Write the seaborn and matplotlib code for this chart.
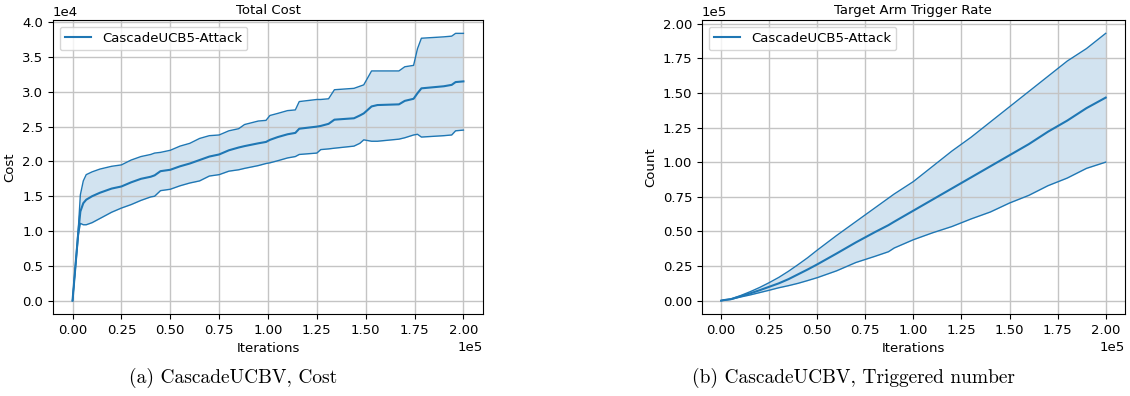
import numpy as np
import matplotlib
matplotlib.use("Agg")
import matplotlib.pyplot as plt
import seaborn as sns

BLUE = "#1f77b4"

# total cost, x in 1e5 iterations, y in 1e4
cost_x = [0, 0.03, 0.04, 0.055, 0.07, 0.10, 0.14, 0.20, 0.25, 0.30, 0.35, 0.40, 0.42,
          0.45, 0.50, 0.55, 0.60, 0.65, 0.70, 0.75, 0.80, 0.85, 0.88, 0.95, 0.99, 1.01,
          1.05, 1.10, 1.14, 1.16, 1.25, 1.27, 1.31, 1.34, 1.44, 1.47, 1.49, 1.53, 1.56,
          1.67, 1.70, 1.745, 1.765, 1.785, 1.90, 1.94, 1.96, 2.00]
cost_upper = [0, 1.05, 1.52, 1.72, 1.81, 1.85, 1.89, 1.93, 1.95, 2.02, 2.07, 2.10, 2.12,
              2.13, 2.16, 2.22, 2.26, 2.33, 2.37, 2.38, 2.44, 2.47, 2.53, 2.58, 2.59, 2.66,
              2.69, 2.73, 2.74, 2.86, 2.89, 2.89, 2.90, 3.03, 3.05, 3.08, 3.10, 3.30, 3.30,
              3.30, 3.36, 3.38, 3.62, 3.77, 3.79, 3.80, 3.84, 3.84]
cost_mean = [0, 1.00, 1.28, 1.40, 1.45, 1.50, 1.55, 1.61, 1.64, 1.70, 1.75, 1.78, 1.80,
             1.86, 1.88, 1.93, 1.97, 2.02, 2.07, 2.10, 2.16, 2.20, 2.22, 2.26, 2.28, 2.31,
             2.35, 2.39, 2.41, 2.47, 2.50, 2.51, 2.54, 2.60, 2.62, 2.66, 2.69, 2.79, 2.81,
             2.82, 2.87, 2.90, 2.98, 3.05, 3.08, 3.10, 3.14, 3.15]
cost_lower = [0, 0.95, 1.11, 1.09, 1.09, 1.12, 1.18, 1.27, 1.33, 1.38, 1.44, 1.49, 1.50,
              1.58, 1.60, 1.65, 1.69, 1.72, 1.79, 1.81, 1.86, 1.88, 1.90, 1.94, 1.97, 1.98,
              2.01, 2.05, 2.07, 2.10, 2.12, 2.17, 2.18, 2.19, 2.22, 2.26, 2.31, 2.29, 2.29,
              2.32, 2.34, 2.38, 2.39, 2.35, 2.37, 2.38, 2.44, 2.45]

# trigger count, x in 1e5 iterations, y in 1e5
trig_x = [0, 0.02, 0.05, 0.10, 0.15, 0.20, 0.25, 0.30, 0.35, 0.40, 0.45, 0.50, 0.60, 0.70,
          0.80, 0.87, 0.90, 1.00, 1.10, 1.20, 1.30, 1.40, 1.50, 1.60, 1.70, 1.80, 1.90, 2.00]
trig_upper = [0, 0.006, 0.012, 0.036, 0.064, 0.095, 0.13, 0.168, 0.212, 0.26, 0.31, 0.365,
              0.47, 0.57, 0.67, 0.74, 0.77, 0.86, 0.97, 1.08, 1.18, 1.29, 1.40, 1.51, 1.62,
              1.73, 1.82, 1.93]
trig_mean = [0, 0.005, 0.01, 0.031, 0.052, 0.075, 0.10, 0.125, 0.155, 0.19, 0.225, 0.262,
             0.34, 0.42, 0.495, 0.545, 0.57, 0.65, 0.73, 0.81, 0.89, 0.97, 1.05, 1.13, 1.22,
             1.30, 1.39, 1.466]
trig_lower = [0, 0.005, 0.009, 0.026, 0.041, 0.058, 0.075, 0.093, 0.108, 0.125, 0.145, 0.166,
              0.215, 0.275, 0.32, 0.353, 0.38, 0.44, 0.49, 0.535, 0.59, 0.64, 0.705, 0.76,
              0.83, 0.885, 0.955, 1.00]

panels = [
    ("Total Cost", "Cost", 1e4, cost_x, cost_mean, cost_upper, cost_lower),
    ("Target Arm Trigger Rate", "Count", 1e5, trig_x, trig_mean, trig_upper, trig_lower),
]
captions = ["(a) CascadeUCBV, Cost", "(b) CascadeUCBV, Triggered number"]

plt.rcParams['font.family'] = ['DejaVu Sans']
plt.rcParams['font.size'] = 9.5

fig = plt.figure(figsize=(11.3, 3.96), dpi=100)
ax_pos = [[0.0469, 0.2071, 0.3805, 0.7424], [0.6212, 0.2071, 0.3743, 0.7424]]

for pos, (title, ylab, yscale, xs, mean, upper, lower) in zip(ax_pos, panels):
    ax = fig.add_axes(pos)
    x = np.array(xs) * 1e5
    m = np.array(mean) * yscale
    hi = np.array(upper) * yscale
    lo = np.array(lower) * yscale
    ax.fill_between(x, lo, hi, color=BLUE, alpha=0.2, lw=0)
    sns.lineplot(x=x, y=m, ax=ax, color=BLUE, lw=1.5, label="CascadeUCB5-Attack")
    sns.lineplot(x=x, y=hi, ax=ax, color=BLUE, lw=1.0, legend=False)
    sns.lineplot(x=x, y=lo, ax=ax, color=BLUE, lw=1.0, legend=False)
    ax.set_title(title, fontsize=9.5, pad=4)
    ax.set_xlabel("Iterations", fontsize=9.5)
    ax.set_ylabel(ylab, fontsize=9.5)
    ax.ticklabel_format(style='sci', axis='both', scilimits=(0, 0))
    ax.grid(True, color='#c4c4c4', lw=1.0)
    ax.tick_params(labelsize=9.5)
    ax.legend(loc='upper left', fontsize=9.5)

fig.text(0.206, 0.046, captions[0], fontsize=14, family='cmr10', ha='center', va='center')
fig.text(0.755, 0.046, captions[1], fontsize=14, family='cmr10', ha='center', va='center')

fig.savefig("out.png", dpi=100)
